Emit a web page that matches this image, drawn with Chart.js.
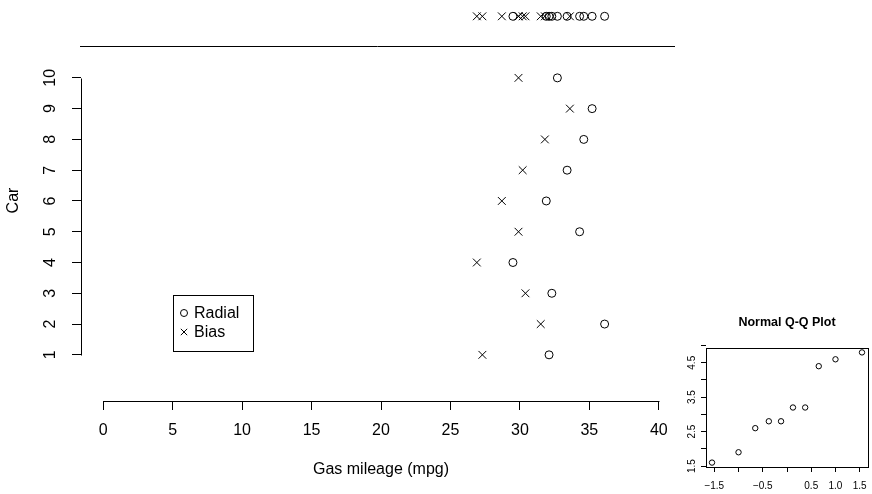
<!DOCTYPE html>
<html>
<head>
<meta charset="utf-8">
<script src="https://cdn.jsdelivr.net/npm/chart.js@4.4.0/dist/chart.umd.min.js"></script>
<style>
  html, body { margin: 0; padding: 0; background: #fff; }
  #wrap { position: relative; width: 872px; height: 494px; }
  #wrap canvas { position: absolute; left: 0; top: 0; }
</style>
</head>
<body>
<div id="wrap">
  <canvas id="mainChart" width="872" height="494"></canvas>
  <canvas id="qqChart" width="872" height="494"></canvas>
</div>
<script>
/* gas mileage of 10 cars, radial vs bias tyres, plus a Q-Q plot of the differences */

const cars   = [1, 2, 3, 4, 5, 6, 7, 8, 9, 10];
const radial = [32.1, 36.1, 32.3, 29.5, 34.3, 31.9, 33.4, 34.6, 35.2, 32.7];
const bias   = [27.3, 31.5, 30.4, 26.9, 29.9, 28.7, 30.2, 31.8, 33.6, 29.9];
const xTicks = [0, 5, 10, 15, 20, 25, 30, 35, 40];
const stripLevel = 12;   // row above the main plot where all values are stacked

// normal Q-Q plot of radial - bias
const qqTheoretical = [-1.547, -1.0, -0.655, -0.375, -0.123, 0.123, 0.375, 0.655, 1.0, 1.547];
const qqSample      = [1.6, 1.9, 2.6, 2.8, 2.8, 3.2, 3.2, 4.4, 4.6, 4.8];
const qqXTicks  = [-1.5, -1.0, -0.5, 0, 0.5, 1.0, 1.5];
const qqXLabels = ['\u22121.5', '', '\u22120.5', '', '0.5', '1.0', '1.5'];
const qqYTicks  = [1.5, 2, 2.5, 3, 3.5, 4, 4.5, 5];
const qqYLabels = ['1.5', '', '2.5', '', '3.5', '', '4.5', ''];

Chart.defaults.font.family = "'Liberation Sans', Arial, Helvetica, sans-serif";
Chart.defaults.color = '#000';

const FONT = "'Liberation Sans', Arial, Helvetica, sans-serif";

function markerSet(label, pts, style, r) {
  return {
    label: label,
    data: pts,
    pointStyle: style,
    pointRadius: r,
    pointHoverRadius: r,
    borderColor: '#000',
    backgroundColor: 'rgba(0,0,0,0)',
    borderWidth: 1,
    showLine: false
  };
}

// no extra room for the end labels, the plot area is set by hand
function fitX(h) {
  return s => { s.height = h; s.paddingLeft = 0; s.paddingRight = 0; };
}
function fitY(w) {
  return s => { s.width = w; s.paddingTop = 0; s.paddingBottom = 0; };
}

// axis lines that only span the tick range, the top rule and the legend box
const mainDecor = {
  id: 'mainDecor',
  afterDraw(chart) {
    const ctx = chart.ctx;
    const xs = chart.scales.x, ys = chart.scales.y;
    const area = chart.chartArea;
    ctx.save();
    ctx.strokeStyle = '#000';
    ctx.lineWidth = 1;

    const yb = Math.round(area.bottom) + 0.5;
    ctx.beginPath();
    ctx.moveTo(Math.round(xs.getPixelForValue(xTicks[0])) + 0.5, yb);
    ctx.lineTo(Math.round(xs.getPixelForValue(xTicks[xTicks.length - 1])) + 0.5, yb);
    ctx.stroke();

    const xl = Math.round(area.left) + 0.5;
    ctx.beginPath();
    ctx.moveTo(xl, Math.round(ys.getPixelForValue(cars[0])) + 0.5);
    ctx.lineTo(xl, Math.round(ys.getPixelForValue(cars[cars.length - 1])) + 0.5);
    ctx.stroke();

    const yr = Math.round(ys.getPixelForValue(11.03)) + 0.5;
    ctx.beginPath();
    ctx.moveTo(area.left - 1, yr);
    ctx.lineTo(area.right - 6, yr);
    ctx.stroke();

    // legend
    const lx = 173, ly = 295, lw = 80, lh = 56;
    ctx.strokeRect(lx + 0.5, ly + 0.5, lw, lh);
    ctx.fillStyle = 'rgba(0,0,0,0)';
    Chart.helpers.drawPoint(ctx, { pointStyle: 'circle', radius: 3.5, borderWidth: 1, rotation: 0 }, lx + 11, ly + 18);
    Chart.helpers.drawPoint(ctx, { pointStyle: 'crossRot', radius: 4.5, borderWidth: 1, rotation: 0 }, lx + 11, ly + 37);
    ctx.fillStyle = '#000';
    ctx.font = '16px ' + FONT;
    ctx.textBaseline = 'middle';
    ctx.textAlign = 'left';
    ctx.fillText('Radial', lx + 21, ly + 19);
    ctx.fillText('Bias', lx + 21, ly + 38);
    ctx.restore();
  }
};

new Chart(document.getElementById('mainChart').getContext('2d'), {
  type: 'scatter',
  data: {
    datasets: [
      markerSet('Radial', cars.map((c, i) => ({ x: radial[i], y: c })), 'circle', 4),
      markerSet('Bias', cars.map((c, i) => ({ x: bias[i], y: c })), 'crossRot', 5.5),
      markerSet('Radial (all)', radial.map(v => ({ x: v, y: stripLevel })), 'circle', 4),
      markerSet('Bias (all)', bias.map(v => ({ x: v, y: stripLevel })), 'crossRot', 5.5)
    ]
  },
  options: {
    responsive: false,
    animation: false,
    devicePixelRatio: 1,
    layout: { autoPadding: false, padding: { left: 0, right: 191, top: 0, bottom: 0 } },
    plugins: { legend: { display: false }, tooltip: { enabled: false } },
    scales: {
      x: {
        type: 'linear',
        min: -1.6,
        max: 41.6,
        afterBuildTicks: s => { s.ticks = xTicks.map(v => ({ value: v })); },
        afterFit: fitX(93),
        border: { display: false },
        grid: { drawOnChartArea: false, drawTicks: true, tickLength: 9, color: '#000', lineWidth: 1 },
        ticks: { font: { size: 16 }, padding: 11, maxRotation: 0, autoSkip: false, color: '#000' },
        title: { display: true, text: 'Gas mileage (mpg)', font: { size: 16 }, color: '#000', padding: { top: 0, bottom: 15 } }
      },
      y: {
        type: 'linear',
        min: -0.5,
        max: 12.53,
        afterBuildTicks: s => { s.ticks = cars.map(v => ({ value: v })); },
        afterFit: fitY(81),
        border: { display: false },
        grid: { drawOnChartArea: false, drawTicks: true, tickLength: 9, color: '#000', lineWidth: 1 },
        ticks: { font: { size: 16 }, padding: 13, minRotation: 90, maxRotation: 90, crossAlign: 'center', autoSkip: false, color: '#000' },
        title: { display: true, text: 'Car', font: { size: 16 }, color: '#000', padding: { top: 4, bottom: 0 } }
      }
    }
  },
  plugins: [mainDecor]
});

const qqBox = {
  id: 'qqBox',
  afterDraw(chart) {
    const a = chart.chartArea, ctx = chart.ctx;
    ctx.save();
    ctx.strokeStyle = '#000';
    ctx.lineWidth = 1;
    ctx.strokeRect(Math.round(a.left) + 0.5, Math.round(a.top) + 0.5,
                   Math.round(a.right - a.left), Math.round(a.bottom - a.top));
    ctx.restore();
  }
};

new Chart(document.getElementById('qqChart').getContext('2d'), {
  type: 'scatter',
  data: {
    datasets: [
      markerSet('Q-Q', qqTheoretical.map((t, i) => ({ x: t, y: qqSample[i] })), 'circle', 2.7)
    ]
  },
  options: {
    responsive: false,
    animation: false,
    devicePixelRatio: 1,
    layout: { autoPadding: false, padding: { left: 676, right: 4, top: 300, bottom: 0 } },
    plugins: {
      legend: { display: false },
      tooltip: { enabled: false },
      title: {
        display: true, text: 'Normal Q-Q Plot', fullSize: false, color: '#000',
        font: { size: 12.5, weight: 'bold' }, padding: { top: 15, bottom: 18 }
      }
    },
    scales: {
      x: {
        type: 'linear',
        min: -1.671,
        max: 1.671,
        afterBuildTicks: s => { s.ticks = qqXTicks.map(v => ({ value: v })); },
        afterFit: fitX(27),
        border: { display: false },
        grid: { drawOnChartArea: false, drawTicks: true, tickLength: 5, color: '#000', lineWidth: 1 },
        ticks: { font: { size: 10 }, padding: 8, maxRotation: 0, autoSkip: false, color: '#000',
                 callback: (v, i) => qqXLabels[i] }
      },
      y: {
        type: 'linear',
        min: 1.472,
        max: 4.928,
        afterBuildTicks: s => { s.ticks = qqYTicks.map(v => ({ value: v })); },
        afterFit: fitY(30),
        border: { display: false },
        grid: { drawOnChartArea: false, drawTicks: true, tickLength: 5, color: '#000', lineWidth: 1 },
        ticks: { font: { size: 10 }, padding: 2, minRotation: 90, maxRotation: 90, crossAlign: 'center', autoSkip: false, color: '#000',
                 callback: (v, i) => qqYLabels[i] }
      }
    }
  },
  plugins: [qqBox]
});
</script>
</body>
</html>
